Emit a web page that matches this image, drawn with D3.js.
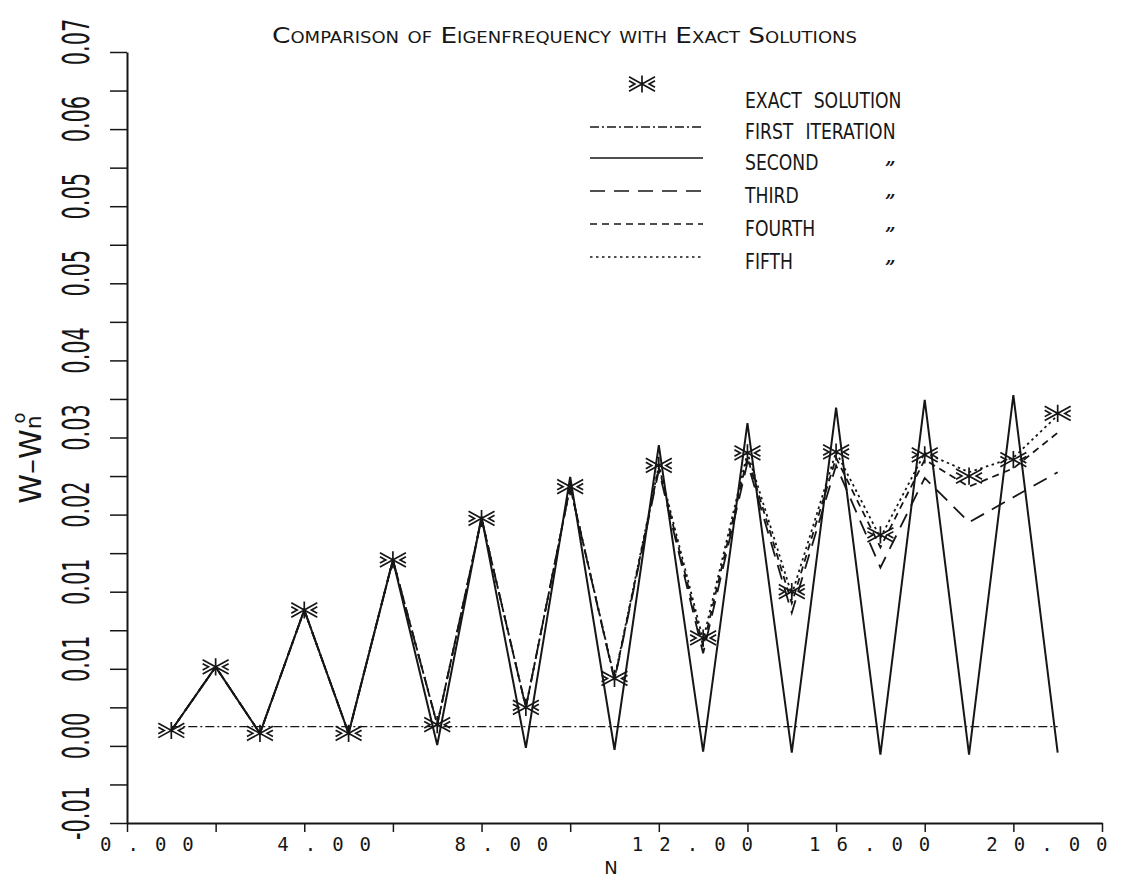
<!DOCTYPE html>
<html lang="en">
<head>
<meta charset="UTF-8">
<title>Comparison of Eigenfrequency with Exact Solutions</title>
<script src="https://d3js.org/d3.v7.min.js"></script>
<style>
  body { margin: 0; background: #fff; }
  svg { display: block; }
</style>
</head>
<body>
<svg></svg>
<script>
const width = 1130;
const height = 881;

// data
const N = [1, 2, 3, 4, 5, 6, 7, 8, 9, 10, 11, 12, 13, 14, 15, 16, 17, 18, 19, 20, 21];
const exact  = [-0.0004, 0.0062, -0.0007, 0.0121, -0.0007, 0.0173, 0.0002, 0.0216, 0.0020, 0.0249, 0.0050,
                0.0271, 0.0092, 0.0284, 0.0140, 0.0285, 0.0199, 0.0282, 0.0260, 0.0277, 0.0325];
const first  = [0.0000, 0.0000, 0.0000, 0.0000, 0.0000, 0.0000, 0.0000, 0.0000, 0.0000, 0.0000, 0.0000,
                0.0000, 0.0000, 0.0000, 0.0000, 0.0000, 0.0000, 0.0000, 0.0000, 0.0000, 0.0000];
const second = [-0.0004, 0.0062, -0.0007, 0.0121, -0.0007, 0.0173, -0.0019, 0.0218, -0.0022, 0.0259, -0.0024,
                0.0292, -0.0026, 0.0315, -0.0027, 0.0331, -0.0029, 0.0339, -0.0029, 0.0344, -0.0027];
const third  = [-0.0004, 0.0062, -0.0007, 0.0121, -0.0007, 0.0173, 0.0002, 0.0216, 0.0020, 0.0249, 0.0048,
                0.0266, 0.0076, 0.0274, 0.0118, 0.0271, 0.0165, 0.0258, 0.0212, 0.0238, 0.0264];
const fourth = [-0.0004, 0.0062, -0.0007, 0.0121, -0.0007, 0.0173, 0.0002, 0.0216, 0.0020, 0.0249, 0.0049,
                0.0269, 0.0083, 0.0279, 0.0128, 0.0279, 0.0186, 0.0277, 0.0249, 0.0268, 0.0305];
const fifth  = [-0.0004, 0.0062, -0.0007, 0.0121, -0.0007, 0.0173, 0.0002, 0.0216, 0.0020, 0.0249, 0.0050,
                0.0271, 0.0090, 0.0284, 0.0137, 0.0285, 0.0196, 0.0284, 0.0264, 0.0279, 0.0323];

const yTicks = [-0.01, -0.002, 0.006, 0.014, 0.022, 0.030, 0.038, 0.046, 0.054, 0.062, 0.070];
const yTickLabels = ["-0.01", "0.00", "0.01", "0.01", "0.02", "0.03", "0.04", "0.05", "0.05", "0.06", "0.07"];
const xTicks = [0, 4, 8, 12, 16, 20];
const xTickLabels = ["0.00", "4.00", "8.00", "12.00", "16.00", "20.00"];
const legendLabels = ["EXACT SOLUTION", "FIRST ITERATION", "SECOND", "THIRD", "FOURTH", "FIFTH"];

const ink = "#161616";

const svg = d3.select("svg")
    .attr("width", width)
    .attr("height", height)
    .style("background", "#fff");

const x = d3.scaleLinear().domain([0, 22]).range([127, 1102]);
const y = d3.scaleLinear().domain([-0.01, 0.07]).range([823, 52]);

// y axis, ticks every 0.004
svg.append("g")
    .attr("transform", `translate(${x(0)},0)`)
    .call(d3.axisLeft(y).tickValues(d3.range(-0.01, 0.0705, 0.004)).tickSize(17).tickSizeOuter(0).tickFormat(""))
    .call(g => g.select(".domain").attr("stroke", ink).attr("stroke-width", 2))
    .call(g => g.selectAll(".tick line").attr("stroke", ink).attr("stroke-width", 1.5));

// x axis, ticks every 2
svg.append("g")
    .attr("transform", `translate(0,${y(-0.01)})`)
    .call(d3.axisBottom(x).tickValues(d3.range(0, 23, 2)).tickSize(9).tickSizeOuter(0).tickFormat(""))
    .call(g => g.select(".domain").attr("stroke", ink).attr("stroke-width", 2))
    .call(g => g.selectAll(".tick line").attr("stroke", ink).attr("stroke-width", 1.5));

// y tick labels, rotated and narrow
svg.append("g").selectAll("text")
    .data(yTicks)
    .join("text")
    .attr("transform", d => `translate(76,${y(d) - 10}) rotate(-90) scale(0.55,1)`)
    .attr("text-anchor", "middle")
    .attr("dominant-baseline", "central")
    .attr("font-family", "DejaVu Sans, sans-serif")
    .attr("font-size", 38)
    .attr("fill", ink)
    .text((d, i) => yTickLabels[i]);

// x tick labels
svg.append("g").selectAll("text")
    .data(xTicks)
    .join("text")
    .attr("x", d => x(d) - 27)
    .attr("y", 851)
    .attr("font-family", "DejaVu Sans Mono, monospace")
    .attr("font-size", 19)
    .attr("letter-spacing", 16)
    .attr("fill", ink)
    .text((d, i) => xTickLabels[i]);

// axis titles
svg.append("text")
    .attr("x", 611).attr("y", 874)
    .attr("text-anchor", "middle")
    .attr("font-family", "DejaVu Sans, sans-serif")
    .attr("font-size", 18)
    .attr("fill", ink)
    .text("N");

const ylab = svg.append("text")
    .attr("transform", "translate(41,458) rotate(-90)")
    .attr("text-anchor", "middle")
    .attr("font-family", "DejaVu Sans, sans-serif")
    .attr("font-size", 30)
    .attr("fill", ink);
ylab.append("tspan").text("W\u2013W");
ylab.append("tspan").attr("font-size", 22).text("n");
ylab.append("tspan").attr("font-size", 18).attr("dx", -8).attr("dy", -16).text("o");

// title
svg.append("text")
    .attr("x", 272).attr("y", 43)
    .attr("font-family", "DejaVu Sans, sans-serif")
    .attr("font-size", 22)
    .attr("font-variant", "small-caps")
    .attr("textLength", 585)
    .attr("lengthAdjust", "spacingAndGlyphs")
    .attr("fill", ink)
    .text("Comparison of Eigenfrequency with Exact Solutions");

// asterisk marker as a d3 symbol type
const asterisk = {
    draw(ctx, size) {
        const r = Math.sqrt(size);
        const h = r * 0.55;
        ctx.moveTo(-r, -h); ctx.lineTo(r, h);
        ctx.moveTo(-r, h); ctx.lineTo(r, -h);
        ctx.moveTo(0, -h * 1.2); ctx.lineTo(0, h * 1.2);
        ctx.moveTo(-r, -h * 0.45); ctx.lineTo(-r * 0.55, 0); ctx.lineTo(-r, h * 0.45);
        ctx.moveTo(r, -h * 0.45); ctx.lineTo(r * 0.55, 0); ctx.lineTo(r, h * 0.45);
    }
};
const star = d3.symbol().type(asterisk).size(169);

// series
const series = [
    { name: "first",  values: first,  dash: "9,3,2,3", w: 1.4 },
    { name: "second", values: second, dash: null,      w: 2 },
    { name: "third",  values: third,  dash: "15,9",    w: 1.8 },
    { name: "fourth", values: fourth, dash: "7,5",     w: 1.8 },
    { name: "fifth",  values: fifth,  dash: "2.5,3.5", w: 1.8 }
];

const line = d3.line()
    .x((d, i) => x(N[i]))
    .y(d => y(d));

const plot = svg.append("g");

plot.selectAll("path.series")
    .data(series)
    .join("path")
    .attr("class", "series")
    .attr("fill", "none")
    .attr("stroke", ink)
    .attr("stroke-width", d => d.w)
    .attr("stroke-dasharray", d => d.dash)
    .attr("stroke-linejoin", "miter")
    .attr("d", d => line(d.values));

plot.selectAll("path.star")
    .data(exact)
    .join("path")
    .attr("class", "star")
    .attr("transform", (d, i) => `translate(${x(N[i])},${y(d)})`)
    .attr("d", star)
    .attr("fill", "none")
    .attr("stroke", ink)
    .attr("stroke-width", 1.7);

// legend
const legend = svg.append("g");
const rowY = [100, 131, 162, 195, 228, 261];

legend.append("path")
    .attr("transform", `translate(642,${rowY[0] - 16})`)
    .attr("d", star)
    .attr("fill", "none")
    .attr("stroke", ink)
    .attr("stroke-width", 1.7);

legend.selectAll("line")
    .data(series)
    .join("line")
    .attr("x1", 590).attr("x2", 703)
    .attr("y1", (d, i) => rowY[i + 1] - 4)
    .attr("y2", (d, i) => rowY[i + 1] - 4)
    .attr("stroke", ink)
    .attr("stroke-width", 1.4)
    .attr("stroke-dasharray", d => d.dash);

legend.selectAll("text.lab")
    .data(legendLabels)
    .join("text")
    .attr("class", "lab")
    .attr("transform", (d, i) => `translate(745,${rowY[i] + 8}) scale(0.82,1)`)
    .attr("font-family", "DejaVu Sans, sans-serif")
    .attr("font-size", 21)
    .attr("word-spacing", 8)
    .attr("fill", ink)
    .text(d => d);

legend.selectAll("text.ditto")
    .data(legendLabels.slice(2))
    .join("text")
    .attr("class", "ditto")
    .attr("x", 885)
    .attr("y", (d, i) => rowY[i + 2] + 13)
    .attr("font-family", "DejaVu Serif, serif")
    .attr("font-style", "italic")
    .attr("font-weight", "bold")
    .attr("font-size", 18)
    .attr("fill", ink)
    .text("\u201D");
</script>
</body>
</html>
